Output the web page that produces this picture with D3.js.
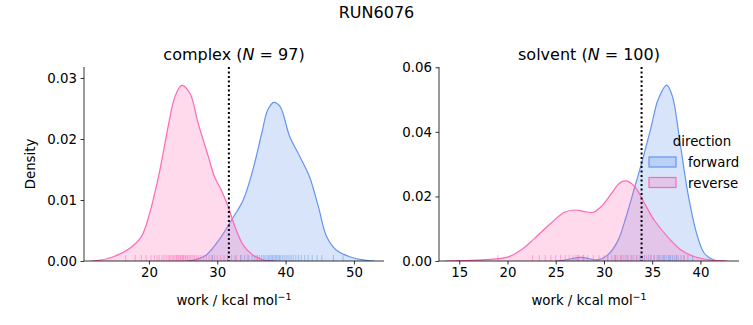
<!DOCTYPE html>
<html><head><meta charset="utf-8">
<script src="https://cdn.jsdelivr.net/npm/d3@7"></script>
<style>body{margin:0;background:#fff}svg{display:block;font-family:"DejaVu Sans",sans-serif}</style>
</head><body><svg id="c" width="753" height="325"></svg>
<script>
// ---- data ----
const figTitle = "RUN6076";
const panelNames = ["complex", "solvent"];
const panelN = [97, 100];
const directions = ["forward", "reverse"];
const colors = ["#6495ED", "#FF69B4"];

const cplxTicksX = [20, 30, 40, 50];
const cplxTicksY = [0, 0.01, 0.02, 0.03];
const solvTicksX = [15, 20, 25, 30, 35, 40];
const solvTicksY = [0, 0.02, 0.04, 0.06];
const cplxDomainX = [10.5, 54.4];
const cplxDomainY = [0, 0.0318];
const solvDomainX = [12.9, 44.0];
const solvDomainY = [0, 0.0601];
const cplxMarker = 31.7;
const solvMarker = 33.9;

// complex KDE curves
const cplxFwdWork = [25.5, 26.7, 28.4, 30.4, 32.3, 33.8, 35.2, 36.5, 37.4, 38.3, 39.2, 40.6, 42.1, 43.5, 44.8, 46.0, 47.4, 49.4, 51.8, 53.0];
const cplxFwdDens = [0, 0.0002, 0.001, 0.0037, 0.0071, 0.0100, 0.0149, 0.0209, 0.0248, 0.0260, 0.0253, 0.0204, 0.0171, 0.0138, 0.0089, 0.0040, 0.0018, 0.0007, 0.0001, 0];
const cplxRevWork = [11.5, 12.4, 14.8, 17.2, 18.9, 20.1, 21.6, 22.8, 23.8, 24.8, 26.0, 27.2, 28.7, 29.6, 30.6, 31.6, 32.6, 33.8, 35.2, 36.7, 37.6, 38.5];
const cplxRevDens = [0, 0.00005, 0.0007, 0.0021, 0.0040, 0.0078, 0.0149, 0.0220, 0.0269, 0.0288, 0.0275, 0.0226, 0.0171, 0.0138, 0.0116, 0.0089, 0.0056, 0.0026, 0.0010, 0.0002, 0.00005, 0];
// solvent KDE curves
const solvFwdWork = [25.0, 25.8, 26.6, 27.6, 28.5, 29.4, 30.4, 31.4, 32.3, 33.2, 34.0, 34.9, 35.6, 36.5, 37.1, 37.8, 38.7, 39.6, 40.4, 41.4, 42.5];
const solvFwdDens = [0, 0.0002, 0.0007, 0.0011, 0.0007, 0.0004, 0.0019, 0.0060, 0.0137, 0.0230, 0.0313, 0.0416, 0.0499, 0.0545, 0.0510, 0.0385, 0.0210, 0.0086, 0.0024, 0.0003, 0];
const solvRevWork = [13.5, 14.9, 17.7, 20.1, 21.4, 22.8, 24.5, 25.9, 27.0, 28.0, 28.9, 29.7, 30.8, 31.6, 32.3, 33.2, 34.2, 35.2, 36.6, 38.0, 39.4, 41.1, 42.8];
const solvRevDens = [0, 0.0001, 0.0004, 0.0013, 0.0034, 0.0070, 0.0117, 0.0151, 0.0158, 0.0153, 0.0151, 0.0168, 0.0210, 0.0241, 0.0248, 0.0230, 0.0179, 0.0127, 0.0075, 0.0034, 0.0013, 0.0003, 0];

// rug samples
const cplxFwdRug = [29.3, 31.5, 32.6, 33.4, 34.0, 34.6, 35.1, 35.5, 35.9, 36.2, 36.5, 36.8, 37.0, 37.3, 37.5, 37.7, 37.9, 38.1, 38.3, 38.5, 38.7, 38.9, 39.1, 39.3, 39.6, 39.9, 40.2, 40.5, 40.8, 41.1, 41.5, 41.9, 42.3, 42.8, 43.3, 43.9, 44.6, 45.3, 47.0, 48.4];
const cplxRevRug = [16.6, 18.0, 18.9, 19.6, 20.3, 20.8, 21.2, 21.5, 21.9, 22.2, 22.5, 22.8, 23.0, 23.2, 23.4, 23.6, 23.8, 24.0, 24.1, 24.3, 24.4, 24.6, 24.7, 24.9, 25.0, 25.1, 25.3, 25.4, 25.6, 25.7, 25.9, 26.1, 26.3, 26.5, 26.7, 27.0, 27.3, 27.6, 28.0, 28.4, 28.8, 29.2, 29.6, 30.0, 30.5, 31.0, 31.5, 32.1, 32.8, 33.5, 34.4, 35.8];
const solvFwdRug = [27.3, 27.9, 30.4, 31.2, 31.8, 32.4, 32.9, 33.4, 33.8, 34.2, 34.6, 34.9, 35.2, 35.5, 35.7, 35.9, 36.1, 36.3, 36.5, 36.7, 36.9, 37.1, 37.3, 37.5, 37.7, 38.0, 38.3, 38.7, 39.2];
const solvRevRug = [19.0, 22.6, 23.3, 23.9, 24.5, 25.0, 25.5, 26.0, 26.4, 26.8, 27.1, 27.4, 27.8, 28.3, 28.9, 29.5, 30.0, 30.4, 30.8, 31.1, 31.4, 31.7, 32.0, 32.2, 32.5, 32.8, 33.1, 33.4, 33.7, 34.0, 34.4, 34.8, 35.2, 35.7, 36.2, 36.8, 37.5, 38.3];

// ---- drawing ----
const svg = d3.select("#c");
svg.append("text").attr("x", 376.5).attr("y", 18).attr("text-anchor", "middle")
  .attr("font-size", 16).text(figTitle);

const panels = [
  {left: 84, right: 384, top: 67, bottom: 261, name: panelNames[0], n: panelN[0],
   dx: cplxDomainX, dy: cplxDomainY, tx: cplxTicksX, ty: cplxTicksY, fmtY: d3.format(".2f"),
   curves: [[cplxFwdWork, cplxFwdDens], [cplxRevWork, cplxRevDens]],
   rugs: [cplxFwdRug, cplxRevRug], marker: cplxMarker, ylabel: true, legend: false},
  {left: 439, right: 739, top: 67, bottom: 261, name: panelNames[1], n: panelN[1],
   dx: solvDomainX, dy: solvDomainY, tx: solvTicksX, ty: solvTicksY, fmtY: d3.format(".2f"),
   curves: [[solvFwdWork, solvFwdDens], [solvRevWork, solvRevDens]],
   rugs: [solvFwdRug, solvRevRug], marker: solvMarker, ylabel: false, legend: true}
];

const smooth = d3.curveCatmullRom.alpha(0.5);

panels.forEach(p => {
  const x = d3.scaleLinear().domain(p.dx).range([p.left, p.right]);
  const y = d3.scaleLinear().domain(p.dy).range([p.bottom, p.top]);
  const g = svg.append("g");
  const clipId = "clip-" + p.name;
  g.append("clipPath").attr("id", clipId).append("rect")
    .attr("x", p.left).attr("y", p.top - 5).attr("width", p.right - p.left).attr("height", p.bottom - p.top + 5);

  p.curves.forEach((c, i) => {
    const pts = c[0].map((w, k) => [w, c[1][k]]);
    const area = d3.area().x(d => x(d[0])).y0(y(0)).y1(d => y(d[1])).curve(smooth);
    const line = d3.line().x(d => x(d[0])).y(d => y(d[1])).curve(smooth);
    g.append("path").attr("clip-path", `url(#${clipId})`).attr("d", area(pts)).attr("fill", colors[i]).attr("fill-opacity", 0.25);
    g.append("path").attr("clip-path", `url(#${clipId})`).attr("d", line(pts)).attr("fill", "none").attr("stroke", colors[i]).attr("stroke-width", 1.2);
  });

  p.rugs.forEach((r, i) => {
    g.selectAll(null).data(r).enter().append("line")
      .attr("x1", d => x(d)).attr("x2", d => x(d))
      .attr("y1", p.bottom).attr("y2", p.bottom - 6)
      .attr("stroke", colors[i]).attr("stroke-width", 1).attr("stroke-opacity", 0.5);
  });

  g.append("line").attr("x1", x(p.marker)).attr("x2", x(p.marker))
    .attr("y1", p.top).attr("y2", p.bottom)
    .attr("stroke", "#000").attr("stroke-width", 2).attr("stroke-dasharray", "2,2.5");

  const xa = g.append("g").attr("transform", `translate(0,${p.bottom})`)
    .call(d3.axisBottom(x).tickValues(p.tx).tickSize(3.5).tickPadding(3.5).tickFormat(d3.format("d")));
  const ya = g.append("g").attr("transform", `translate(${p.left},0)`)
    .call(d3.axisLeft(y).tickValues(p.ty).tickSize(3.5).tickPadding(3.5).tickFormat(p.fmtY));
  [xa, ya].forEach(a => {
    a.selectAll("text").attr("font-size", 13.33).attr("font-family", "DejaVu Sans").attr("fill", "#000");
    a.selectAll("line").attr("stroke", "#000").attr("stroke-width", 0.8);
    a.select(".domain").attr("stroke", "#000").attr("stroke-width", 0.8)
      .attr("d", a === xa ? `M${p.left},0H${p.right}` : `M0,${p.bottom}V${p.top}`);
  });

  const t = g.append("text").attr("x", (p.left + p.right) / 2).attr("y", 60)
    .attr("text-anchor", "middle").attr("font-size", 16);
  t.append("tspan").text(p.name + " (");
  t.append("tspan").attr("font-style", "italic").text("N");
  t.append("tspan").text(" = " + p.n + ")");

  const xl = g.append("text").attr("x", (p.left + p.right) / 2).attr("y", 305)
    .attr("text-anchor", "middle").attr("font-size", 13.33);
  xl.append("tspan").text("work / kcal mol");
  xl.append("tspan").attr("font-size", 9.5).attr("dy", -5).text("−1");

  if (p.ylabel) {
    g.append("text").attr("transform", `translate(35,${(p.top + p.bottom) / 2}) rotate(-90)`)
      .attr("text-anchor", "middle").attr("font-size", 13.33).text("Density");
  }

  if (p.legend) {
    const lg = g.append("g");
    lg.append("text").attr("x", 702).attr("y", 146).attr("text-anchor", "middle")
      .attr("font-size", 13.33).text("direction");
    directions.forEach((d, i) => {
      const cy = 162 + i * 20.5;
      lg.append("rect").attr("x", 649).attr("y", cy - 5).attr("width", 27).attr("height", 10)
        .attr("fill", colors[i]).attr("fill-opacity", 0.25).attr("stroke", colors[i]).attr("stroke-width", 1.2);
      lg.append("text").attr("x", 688).attr("y", cy + 5).attr("font-size", 13.33).text(d);
    });
  }
});
</script></body></html>
